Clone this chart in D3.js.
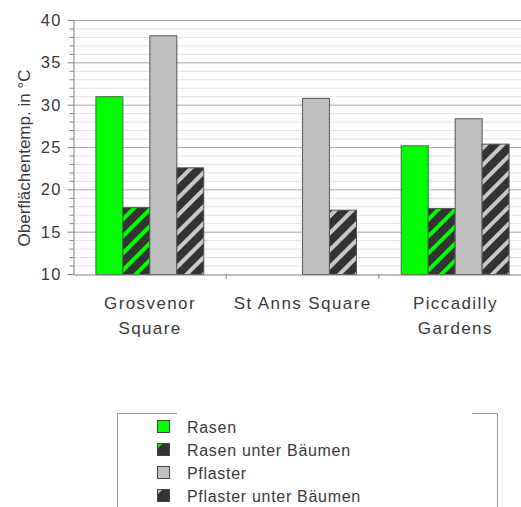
<!DOCTYPE html>
<html><head><meta charset="utf-8">
<script src="https://cdn.jsdelivr.net/npm/d3@7"></script>
<style>body{margin:0;background:#fff}svg{display:block}</style>
</head><body>
<script>
const categories = ["Grosvenor Square", "St Anns Square", "Piccadilly Gardens"];
const categoryLines = [["Grosvenor", "Square"], ["St Anns Square"], ["Piccadilly", "Gardens"]];
const seriesNames = ["Rasen", "Rasen unter Bäumen", "Pflaster", "Pflaster unter Bäumen"];
const rasen = [31.0, null, 25.2];
const rasenUnterBaeumen = [17.9, null, 17.8];
const pflaster = [38.2, 30.8, 28.4];
const pflasterUnterBaeumen = [22.6, 17.6, 25.4];
const yTicks = [10, 15, 20, 25, 30, 35, 40];
const yLabel = "Oberflächentemp. in °C";

const seriesValues = [rasen, rasenUnterBaeumen, pflaster, pflasterUnterBaeumen];
const W = 521, H = 507;
const svg = d3.select("body").append("svg").attr("width", W).attr("height", H);
const font = "'Liberation Sans', Arial, sans-serif";
const txt = "#3a3a3a";

const defs = svg.append("defs");
function hatch(id, base) {
  const p = defs.append("pattern").attr("id", id).attr("patternUnits", "userSpaceOnUse")
    .attr("width", 12).attr("height", 12).attr("patternTransform", "rotate(45)");
  p.append("rect").attr("width", 12).attr("height", 12).attr("fill", "#333");
  p.append("rect").attr("x", 0).attr("width", 4).attr("height", 12).attr("fill", base);
}
hatch("hg", "#00ff00");
hatch("hp", "#c8c8c8");
const fills = ["#00ff00", "url(#hg)", "#c0c0c0", "url(#hp)"];
const legendBase = ["#00ff00", "#00ff00", "#c0c0c0", "#c0c0c0"];

const x0 = 73, plotRight = 531, y0 = 274, y1 = 20;
const x = d3.scaleBand().domain(categories).range([x0, plotRight]).padding(0);
const xs = d3.scaleBand().domain(seriesNames).range([0, x.bandwidth()]).paddingInner(0).paddingOuter(0.83);
const y = d3.scaleLinear().domain([10, 40]).range([y0, y1]);

// gridlines
const minor = d3.range(11, 40).filter(v => v % 5 !== 0);
svg.append("g").selectAll("line").data(minor).join("line")
  .attr("x1", x0).attr("x2", W).attr("y1", d => y(d) + 0.5).attr("y2", d => y(d) + 0.5)
  .attr("stroke", "#e2e2e2").attr("stroke-width", 1);
svg.append("g").selectAll("line").data(yTicks.filter(v => v > 10)).join("line")
  .attr("x1", x0).attr("x2", W).attr("y1", d => y(d) + 0.5).attr("y2", d => y(d) + 0.5)
  .attr("stroke", "#a8a8a8").attr("stroke-width", 1);

// bars
const data = [];
categories.forEach((c, i) => seriesNames.forEach((s, j) => {
  const v = seriesValues[j][i];
  if (v != null) data.push({c, s, v, j});
}));
svg.append("g").selectAll("rect").data(data).join("rect")
  .attr("x", d => x(d.c) + xs(d.s) + 0.5)
  .attr("y", d => y(d.v) + 0.5)
  .attr("width", xs.bandwidth())
  .attr("height", d => y0 - y(d.v))
  .attr("fill", d => fills[d.j])
  .attr("stroke", d => d.j === 0 ? "#3c6e3c" : "#555")
  .attr("stroke-width", 1);

// axes
const yAxis = svg.append("g").attr("transform", `translate(${x0 + 0.5},0)`)
  .call(d3.axisLeft(y).tickValues(d3.range(10, 41)).tickSize(4).tickFormat(""));
yAxis.select(".domain").attr("stroke", "#808080");
yAxis.selectAll(".tick line").attr("stroke", "#808080")
  .attr("x2", d => d % 5 === 0 ? -6 : -4);
svg.append("g").selectAll("text").data(yTicks).join("text")
  .attr("x", 62).attr("y", d => y(d)).attr("dy", "0.36em")
  .attr("text-anchor", "end").attr("font-family", font).attr("font-size", 16.5)
  .attr("letter-spacing", 1.5)
  .attr("fill", txt).text(d => d);

const xAxis = svg.append("g").attr("transform", `translate(0,${y0 + 0.5})`)
  .call(d3.axisBottom(x).tickSize(0).tickFormat(""));
xAxis.select(".domain").attr("stroke", "#808080");
xAxis.selectAll(".tick").remove();
svg.append("g").selectAll("line").data(categories.slice(1)).join("line")
  .attr("x1", d => x(d) + 0.5).attr("x2", d => x(d) + 0.5)
  .attr("y1", y0).attr("y2", y0 + 5).attr("stroke", "#808080");

// category labels
categories.forEach((c, i) => {
  const t = svg.append("text").attr("text-anchor", "middle").attr("font-family", font)
    .attr("font-size", 17).attr("letter-spacing", 1.4).attr("fill", txt);
  categoryLines[i].forEach((ln, k) => {
    t.append("tspan").attr("x", x(c) + x.bandwidth() / 2 + 0.7).attr("y", 309 + k * 25).text(ln);
  });
});

// y label
svg.append("text").attr("transform", "translate(30,158) rotate(-90)")
  .attr("text-anchor", "middle").attr("font-family", font).attr("font-size", 17)
  .attr("fill", txt).text(yLabel);

// legend box
const lg = svg.append("g");
lg.append("path").attr("d", "M117.5,507 V413.5 H177 M472,413.5 H497.5 V507")
  .attr("fill", "none").attr("stroke", "#999");
const ly = d3.scalePoint().domain(seriesNames).range([427, 496]);
seriesNames.forEach((s, j) => {
  const cy = ly(s);
  lg.append("rect").attr("x", 157.5).attr("y", cy - 6.5).attr("width", 12).attr("height", 12)
    .attr("fill", j % 2 === 1 ? "#333" : legendBase[j]).attr("stroke", "#444");
  if (j % 2 === 1) {
    lg.append("path").attr("d", `M158,${cy - 6} h4 l-4,4 z`).attr("fill", legendBase[j]);
  }
  lg.append("text").attr("x", 187).attr("y", cy).attr("dy", "0.36em")
    .attr("font-family", font).attr("font-size", 16).attr("letter-spacing", 0.7)
    .attr("fill", txt).text(s);
});
</script>
</body></html>
